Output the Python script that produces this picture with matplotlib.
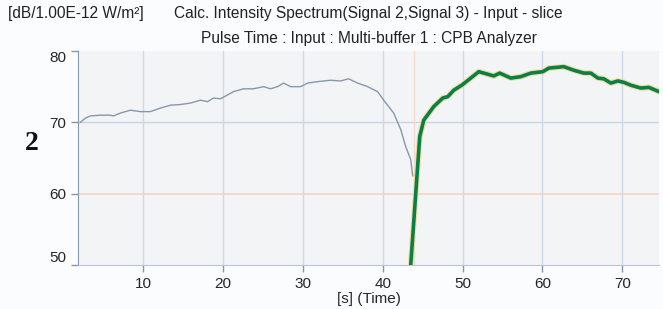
import matplotlib.pyplot as plt

plt.rcParams['font.family'] = ['Liberation Sans', 'DejaVu Sans']

# Dados
t_cinza = [2.16, 2.78, 3.41, 4.66, 5.91, 6.29, 7.17, 8.42, 9.67, 10.93, 12.18, 13.43,
           14.69, 15.94, 17.19, 18.07, 18.82, 19.70, 21.33, 22.58, 23.83, 25.09, 25.96,
           26.84, 27.59, 28.47, 29.72, 30.60, 31.85, 33.48, 34.74, 35.74, 36.87, 38.12,
           39.37, 40.13, 41.38, 42.26, 42.88, 43.51, 43.76]
v_cinza = [70.0, 70.6, 70.9, 71.0, 71.0, 70.9, 71.3, 71.7, 71.5, 71.5, 72.0, 72.4,
           72.5, 72.7, 73.1, 72.9, 73.4, 73.3, 74.3, 74.7, 74.7, 75.0, 74.7,
           75.0, 75.5, 75.0, 75.0, 75.5, 75.7, 75.9, 75.8, 76.1, 75.5, 75.0,
           74.3, 73.1, 71.3, 69.0, 66.6, 64.8, 62.5]

t_verde = [43.45, 44.64, 45.14, 46.39, 47.52, 48.15, 48.90, 49.90, 51.03, 52.03, 52.66,
           53.91, 54.66, 56.04, 57.29, 58.55, 60.05, 60.80, 62.68, 63.93, 65.19, 66.07,
           66.94, 67.69, 68.57, 69.45, 70.20, 71.08, 72.33, 73.33, 74.59]
v_verde = [49.0, 68.0, 70.3, 72.2, 73.4, 73.6, 74.5, 75.2, 76.2, 77.1, 76.9,
           76.5, 76.9, 76.2, 76.4, 76.9, 77.1, 77.6, 77.8, 77.3, 76.9, 76.9,
           76.2, 76.1, 75.5, 75.8, 75.6, 75.2, 74.8, 74.9, 74.3]

xticks = [10, 20, 30, 40, 50, 60, 70]
yticks = [50, 60, 70, 80]

fig = plt.figure(figsize=(6.63, 3.09), dpi=100, facecolor='#fbfcfd')
ax = fig.add_axes([0.1176, 0.1424, 0.8764, 0.6926])
ax.set_facecolor('#f3f4f5')

ax.set_xlim(1.85, 74.6)
ax.set_ylim(50, 80)

# Grade
for x in xticks:
    ax.axvline(x, color='#cdd9e7', lw=1, zorder=1)
ax.axhline(70, color='#c8d5e5', lw=1, zorder=1)
ax.axhline(60, color='#f1d4c4', lw=1.2, zorder=1)
ax.axvline(43.9, color='#f3dccf', lw=1, zorder=1)

# Curvas
ax.plot(t_cinza, v_cinza, color='#8a97aa', lw=1.0, zorder=3)
ax.plot(t_verde, v_verde, color='#f2d98f', lw=4.2, alpha=0.8, zorder=4,
        solid_joinstyle='round')
ax.plot(t_verde, v_verde, color='#0a7f48', lw=2.6, zorder=5, solid_joinstyle='round')

# Eixos
for s in ['top', 'right']:
    ax.spines[s].set_visible(False)
ax.spines['left'].set_color('#8297b0')
ax.spines['bottom'].set_color('#b9c5d4')
ax.tick_params(axis='both', colors='#8297b0', length=5, width=1,
               labelcolor='#262626', labelsize=11)
ax.set_xticks(xticks)
ax.set_yticks(yticks)
ax.set_yticklabels([str(v) for v in yticks])
ylabels = ax.get_yticklabels()
ylabels[0].set_va('bottom')
ylabels[-1].set_va('top')
ax.set_xlabel('[s] (Time)', fontsize=11, color='#262626', labelpad=1)

# Textos
fig.text(0.012, 0.955, '[dB/1.00E-12 W/m²]', fontsize=11.2, color='#222222', va='center')
fig.text(0.262, 0.955, 'Calc. Intensity Spectrum(Signal 2,Signal 3) - Input - slice',
         fontsize=11.2, color='#222222', va='center')
fig.text(0.557, 0.877, 'Pulse Time : Input : Multi-buffer 1 : CPB Analyzer',
         fontsize=11.2, color='#222222', va='center', ha='center')
fig.text(0.048, 0.537, '2', fontsize=20, fontweight='bold', family='Liberation Serif',
         color='#111111', ha='center', va='center')

plt.savefig('out.png', dpi=100, facecolor=fig.get_facecolor())
